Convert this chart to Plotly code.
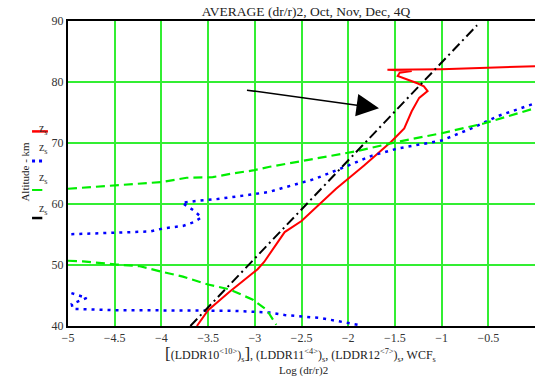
import plotly.graph_objects as go

# ---- data ----
red_x = [-3.62, -3.50, -3.27, -3.09, -2.97, -2.90, -2.68, -2.50, -2.29, -2.13, -1.83, -1.54,
         -1.40, -1.32, -1.24, -1.15, -1.19, -1.26, -1.47, -1.45, -1.32, -1.58, -1.0, -0.5, 0.0]
red_y = [40.0, 42.6, 45.6, 47.9, 49.3, 50.5, 55.4, 57.2, 60.3, 62.5, 66.3, 70.2,
         72.4, 75.2, 77.4, 78.5, 79.3, 79.8, 81.0, 81.5, 81.8, 82.0, 82.1, 82.3, 82.6]

blue_x = [-1.90, -2.29, -2.68, -2.84, -3.24, -3.88, -4.52, -4.95, -4.96, -4.80, -5.05,
          None,
          -5.05, -4.52, -4.12, -3.98, -3.77, -3.66, -3.57, -3.66, -3.78, -3.62, -3.41, -3.06,
          -2.84, -2.73, -2.36, -2.00, -1.75, -1.47, -1.00, -0.68, -0.40, 0.0]
blue_y = [40.2, 41.3, 41.8, 42.2, 42.5, 42.5, 42.6, 42.8, 43.6, 44.6, 45.8,
          None,
          55.0, 55.3, 55.5, 56.0, 56.4, 57.0, 57.8, 59.0, 60.2, 60.5, 60.8, 61.5,
          62.0, 62.5, 64.1, 66.3, 67.9, 69.1, 70.4, 72.4, 74.4, 76.5]

green_x = [-5.0, -4.84, -4.5, -4.23, -4.0, -3.77, -3.5, -3.27, -3.02, -2.87, -2.77,
           None,
           -5.0, -4.5, -4.2, -4.0, -3.73, -3.45, -3.24, -3.02, -2.84, -2.54, -1.93,
           -1.47, -1.0, -0.55, 0.0]
green_y = [50.7, 50.6, 50.1, 49.8, 48.9, 48.1, 46.8, 46.0, 44.3, 42.6, 40.2,
           None,
           62.5, 63.0, 63.3, 63.6, 64.3, 64.4, 65.0, 65.5, 66.1, 66.9, 68.6,
           70.2, 71.6, 73.2, 75.7]

wcf_x = [-3.69, -0.62]
wcf_y = [40.0, 89.3]

arrow_start = (-3.10, 78.7)
arrow_end = (-1.67, 75.7)

x_ticks = [-5, -4.5, -4, -3.5, -3, -2.5, -2, -1.5, -1, -0.5]
y_ticks = [40, 50, 60, 70, 80, 90]

title = "AVERAGE (dr/r)2, Oct, Nov, Dec, 4Q"
y_title = "Altitude - km"
x_title1 = ("<span style='font-size:17px'>[</span>(LDDR10<sup>&lt;10&gt;</sup>)<sub>s</sub>"
            "<span style='font-size:17px'>]</span>, (LDDR11<sup>&lt;4&gt;</sup>)<sub>s</sub>, "
            "(LDDR12<sup>&lt;7&gt;</sup>)<sub>s</sub>, WCF<sub>s</sub>")
x_title2 = "Log (dr/r)2"

FONT = "Liberation Serif, Times New Roman, serif"
LIME = "#33ee33"

fig = go.Figure()
fig.add_trace(go.Scatter(x=red_x, y=red_y, mode="lines",
                         line=dict(color="#ff0000", width=2), connectgaps=False))
fig.add_trace(go.Scatter(x=blue_x, y=blue_y, mode="lines",
                         line=dict(color="#0000ff", width=2.5, dash="3px,5px"), connectgaps=False))
fig.add_trace(go.Scatter(x=green_x, y=green_y, mode="lines",
                         line=dict(color="#00ee00", width=2.2, dash="9px,5px"), connectgaps=False))
fig.add_trace(go.Scatter(x=wcf_x, y=wcf_y, mode="lines",
                         line=dict(color="#000000", width=2, dash="10px,4px,2px,4px")))

fig.add_annotation(x=arrow_end[0], y=arrow_end[1], ax=arrow_start[0], ay=arrow_start[1],
                   xref="x", yref="y", axref="x", ayref="y", text="",
                   showarrow=True, arrowhead=2, arrowsize=3, arrowwidth=1.5,
                   arrowcolor="black")

# left-side legend
legend = [("#ff0000", "solid", 0.638, 0.678, -0.043, 2.5),
          ("#0000ff", "3px,4px", 0.541, 0.582, -0.055, 3),
          ("#00ee00", "solid", 0.446, 0.484, -0.055, 2),
          ("#000000", "solid", 0.354, 0.382, -0.055, 2.5)]
for color, dash, ly, ty, x1, w in legend:
    fig.add_shape(type="line", xref="paper", yref="paper", x0=-0.077, x1=x1, y0=ly, y1=ly,
                  line=dict(color=color, width=w, dash=dash))
    fig.add_annotation(xref="paper", yref="paper", x=-0.066, y=ty, showarrow=False,
                       text="z<sub>s</sub>", font=dict(family=FONT, size=12, color="#333"))

fig.add_annotation(xref="paper", yref="paper", x=-0.11, y=0.505, showarrow=False,
                   text=y_title, textangle=-90, font=dict(family=FONT, size=11, color="#222"))
fig.add_annotation(xref="paper", yref="paper", x=0.497, y=-0.13, showarrow=False,
                   text=x_title1, font=dict(family=FONT, size=12, color="#222"))
fig.add_annotation(xref="paper", yref="paper", x=0.505, y=-0.175, showarrow=False,
                   text=x_title2, font=dict(family=FONT, size=11, color="#222"))

fig.update_layout(
    width=535, height=383,
    margin=dict(l=68, r=0, t=21, b=57),
    paper_bgcolor="white", plot_bgcolor="white",
    showlegend=False,
    title=dict(text=title, x=0.572, xanchor="center", y=0.97, yanchor="middle",
               font=dict(family=FONT, size=13.5, color="#222")),
    font=dict(family=FONT, size=12, color="#333"),
)
fig.update_xaxes(range=[-5, 0], tickvals=x_ticks, ticktext=[f"\u2212{abs(v):g}" for v in x_ticks],
                 showgrid=True, gridcolor=LIME, gridwidth=1.5, zeroline=False,
                 showline=True, linecolor="black", linewidth=2, mirror=True,
                 ticks="", tickfont=dict(family=FONT, size=12, color="#333"))
fig.update_yaxes(range=[40, 90], tickvals=y_ticks,
                 showgrid=True, gridcolor=LIME, gridwidth=1.5, zeroline=False,
                 showline=True, linecolor="black", linewidth=2,
                 ticks="", tickfont=dict(family=FONT, size=12, color="#333"))

fig.write_html("out.html", config={"displayModeBar": False},
               post_script="document.body.style.margin='0px';document.body.style.overflow='hidden';")
